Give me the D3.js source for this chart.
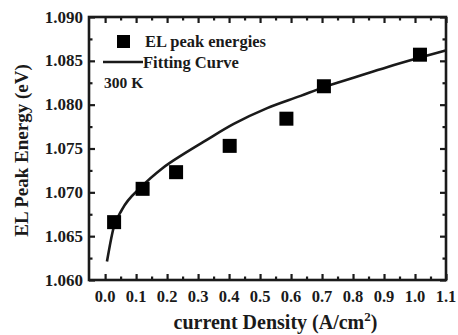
<!DOCTYPE html>
<meta charset="utf-8">
<script src="https://d3js.org/d3.v7.min.js"></script>
<style>
  body { margin: 0; background: #fff; }
  text { font-family: "Liberation Serif", "Times New Roman", serif; font-weight: bold; fill: #1a1a1a; }
</style>
<div id="chart"></div>
<script>

// measured EL peak energies
const density = [0.029, 0.121, 0.229, 0.402, 0.585, 0.706, 1.016];
const energy = [1.0666, 1.0704, 1.0723, 1.0753, 1.0784, 1.0821, 1.0857];

// fitting curve
const fitX = [0.006, 0.027, 0.054, 0.119, 0.183, 0.259, 0.324, 0.415, 0.523, 0.631, 0.706, 0.804, 0.912, 1.019, 1.100];
const fitY = [1.0621, 1.0659, 1.0680, 1.0707, 1.0727, 1.0745, 1.0759, 1.0778, 1.0796, 1.0810, 1.0820, 1.0831, 1.0843, 1.0854, 1.0862];

const xTicks = [0.0, 0.1, 0.2, 0.3, 0.4, 0.5, 0.6, 0.7, 0.8, 0.9, 1.0, 1.1];
const yTicks = [1.060, 1.065, 1.070, 1.075, 1.080, 1.085, 1.090];

const W = 458, H = 335;
const margin = {top: 17, right: 12, bottom: 55, left: 89};
const width = W - margin.left - margin.right,
      height = H - margin.top - margin.bottom;

const svg = d3.select("#chart").append("svg")
    .attr("width", W).attr("height", H)
  .append("g")
    .attr("transform", `translate(${margin.left},${margin.top})`);

const x = d3.scaleLinear().domain([-0.052, 1.1]).range([0, width]);
const y = d3.scaleLinear().domain([1.06, 1.09]).range([height, 0]);

// minor ticks halfway between majors
const xMinor = d3.range(-0.05, 1.1, 0.05).map(v => +v.toFixed(2)).filter(v => xTicks.indexOf(v) < 0 && v > -0.05);
const yMinor = d3.range(1.0625, 1.09, 0.005).map(v => +v.toFixed(4));

function tickSet(axis, vals, len) {
  return g => g.call(axis.tickValues(vals).tickSize(len).tickFormat(""))
    .call(g => g.select(".domain").remove())
    .call(g => g.selectAll("line").attr("stroke", "#1a1a1a").attr("stroke-width", 2.2));
}

// bottom
svg.append("g").attr("transform", `translate(0,${height})`)
  .call(tickSet(d3.axisBottom(x), xTicks, -6));
svg.append("g").attr("transform", `translate(0,${height})`)
  .call(tickSet(d3.axisBottom(x), xMinor, -3.5));
// top
svg.append("g").call(tickSet(d3.axisTop(x), xTicks, -6));
svg.append("g").call(tickSet(d3.axisTop(x), xMinor, -3.5));
// left
svg.append("g").call(tickSet(d3.axisLeft(y), yTicks, -6));
svg.append("g").call(tickSet(d3.axisLeft(y), yMinor, -3.5));
// right
svg.append("g").attr("transform", `translate(${width},0)`)
  .call(tickSet(d3.axisRight(y), yTicks, -6));
svg.append("g").attr("transform", `translate(${width},0)`)
  .call(tickSet(d3.axisRight(y), yMinor, -3.5));

// frame
svg.append("rect")
  .attr("width", width).attr("height", height)
  .attr("fill", "none").attr("stroke", "#1a1a1a").attr("stroke-width", 2.6);

// tick labels
svg.append("g").selectAll("text").data(xTicks).join("text")
  .attr("x", d => x(d)).attr("y", height + 22)
  .attr("text-anchor", "middle").style("font-size", "16.5px")
  .text(d => d.toFixed(1));
svg.append("g").selectAll("text").data(yTicks).join("text")
  .attr("x", -6).attr("y", d => y(d) + 5.5)
  .attr("text-anchor", "end").style("font-size", "17px")
  .text(d => d.toFixed(3));

// fitting curve
const fit = fitX.map((v, i) => [v, fitY[i]]);
svg.append("path").datum(fit)
  .attr("d", d3.line().x(d => x(d[0])).y(d => y(d[1])).curve(d3.curveMonotoneX))
  .attr("fill", "none").attr("stroke", "#1a1a1a").attr("stroke-width", 2.6);

// squares
const sq = 14;
svg.append("g").selectAll("rect").data(density).join("rect")
  .attr("x", d => x(d) - sq / 2).attr("y", (d, i) => y(energy[i]) - sq / 2)
  .attr("width", sq).attr("height", sq).attr("fill", "#000");

// legend
svg.append("rect").attr("x", 28).attr("y", 18).attr("width", 13).attr("height", 13).attr("fill", "#000");
svg.append("text").attr("x", 56).attr("y", 30).style("font-size", "16.5px").text("EL peak energies");
svg.append("line").attr("x1", 14).attr("x2", 54).attr("y1", 45).attr("y2", 45)
  .attr("stroke", "#1a1a1a").attr("stroke-width", 2.6);
svg.append("text").attr("x", 54).attr("y", 50.5).style("font-size", "16.5px").text("Fitting Curve");
svg.append("text").attr("x", 15).attr("y", 70.5).style("font-size", "15.5px").text("300 K");

// axis titles
const xt = svg.append("text")
  .attr("x", width / 2 + 8).attr("y", height + 49)
  .attr("text-anchor", "middle").style("font-size", "20px");
xt.append("tspan").text("current Density (A/cm");
xt.append("tspan").attr("dy", -8).style("font-size", "13px").text("2");
xt.append("tspan").attr("dy", 8).text(")");

svg.append("text")
  .attr("transform", `translate(${-margin.left + 28},${height / 2 + 2}) rotate(-90)`)
  .attr("text-anchor", "middle").style("font-size", "19px")
  .text("EL Peak Energy (eV)");

</script>
